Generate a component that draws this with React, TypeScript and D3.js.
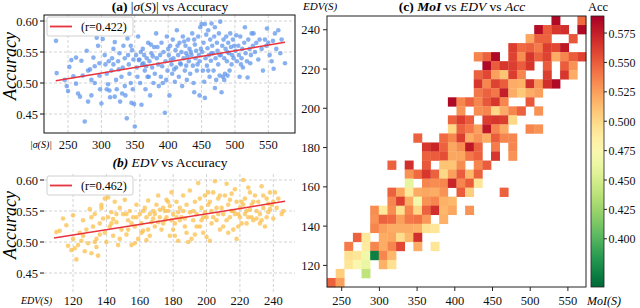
import React from "react";
import * as d3 from "d3";

const FONT = "'Liberation Serif', 'Times New Roman', serif";

// (a) |σ(S)| vs accuracy
const sigmaPoints: [number, number][] = [
  [232, 0.568], [233, 0.516], [248, 0.495], [250, 0.487], [252, 0.526], [255, 0.537], [258, 0.511], [245, 0.505],
  [262, 0.499], [265, 0.483], [268, 0.478], [262, 0.541], [270, 0.536], [275, 0.438], [278, 0.552], [280, 0.47],
  [283, 0.522], [285, 0.48], [288, 0.541], [290, 0.5], [293, 0.573], [295, 0.56], [297, 0.532], [298, 0.49],
  [300, 0.467], [285, 0.505], [272, 0.512], [290, 0.527], [297, 0.512], [280, 0.52],
  [302, 0.571], [305, 0.545], [306, 0.53], [308, 0.515], [310, 0.498], [312, 0.488], [313, 0.477], [315, 0.52],
  [316, 0.54], [318, 0.555], [320, 0.566], [322, 0.505], [323, 0.49], [325, 0.535], [327, 0.548], [328, 0.47],
  [330, 0.51], [332, 0.525], [333, 0.56], [335, 0.495], [336, 0.48], [338, 0.443], [340, 0.545], [341, 0.53],
  [342, 0.515], [344, 0.5], [345, 0.468], [346, 0.553], [347, 0.49], [348, 0.538], [349, 0.466], [350, 0.43],
  [335, 0.54], [326, 0.522], [318, 0.53], [311, 0.535], [339, 0.572], [344, 0.56], [320, 0.478], [331, 0.483], [308, 0.49],
  [352, 0.545], [353, 0.525], [354, 0.51], [355, 0.575], [356, 0.537], [358, 0.5], [360, 0.465], [361, 0.53],
  [362, 0.555], [364, 0.545], [365, 0.52], [366, 0.49], [368, 0.54], [369, 0.51], [370, 0.565], [372, 0.535],
  [373, 0.48], [375, 0.548], [376, 0.525], [378, 0.5], [379, 0.558], [380, 0.515], [382, 0.58], [383, 0.54],
  [385, 0.53], [386, 0.495], [388, 0.545], [389, 0.51], [390, 0.565], [391, 0.527], [393, 0.55], [395, 0.452],
  [396, 0.535], [397, 0.505], [398, 0.575], [399, 0.52], [357, 0.538], [363, 0.532], [371, 0.51], [377, 0.543],
  [384, 0.558], [392, 0.5], [367, 0.527], [359, 0.55], [374, 0.562],
  [401, 0.545], [402, 0.48], [403, 0.56], [405, 0.53], [406, 0.515], [407, 0.57], [408, 0.54], [410, 0.502],
  [411, 0.553], [412, 0.525], [413, 0.585], [415, 0.545], [416, 0.51], [417, 0.565], [418, 0.532], [420, 0.55],
  [421, 0.495], [422, 0.575], [423, 0.54], [425, 0.52], [426, 0.56], [427, 0.548], [428, 0.505], [430, 0.57],
  [431, 0.535], [432, 0.555], [433, 0.515], [435, 0.545], [436, 0.58], [437, 0.528], [438, 0.5], [440, 0.562],
  [441, 0.54], [442, 0.552], [443, 0.52], [445, 0.575], [446, 0.545], [447, 0.535], [448, 0.59], [449, 0.555],
  [404, 0.538], [409, 0.522], [414, 0.56], [419, 0.53], [424, 0.567], [429, 0.543], [434, 0.55], [439, 0.57],
  [444, 0.53], [400, 0.555], [427, 0.528], [439, 0.485], [447, 0.48],
  [450, 0.595], [451, 0.55], [452, 0.52], [453, 0.565], [454, 0.502], [455, 0.595], [456, 0.54], [457, 0.578],
  [458, 0.528], [459, 0.556], [460, 0.585], [461, 0.545], [462, 0.51], [463, 0.57], [464, 0.536], [465, 0.596],
  [466, 0.56], [467, 0.548], [468, 0.52], [469, 0.575], [470, 0.59], [471, 0.54], [472, 0.505], [473, 0.565],
  [474, 0.552], [475, 0.53], [476, 0.58], [477, 0.512], [478, 0.599], [479, 0.545], [480, 0.485], [481, 0.56],
  [482, 0.51], [483, 0.57], [484, 0.54], [485, 0.515], [486, 0.555], [487, 0.575], [488, 0.535], [489, 0.512],
  [490, 0.565], [491, 0.548], [492, 0.52], [493, 0.58], [494, 0.558], [495, 0.53], [496, 0.545], [497, 0.57],
  [498, 0.54], [499, 0.56], [455, 0.476], [470, 0.492], [460, 0.52], [477, 0.545], [484, 0.505], [465, 0.548], [489, 0.55],
  [501, 0.552], [502, 0.577], [503, 0.535], [505, 0.56], [506, 0.545], [507, 0.51], [508, 0.575], [510, 0.54],
  [511, 0.555], [512, 0.525], [514, 0.565], [515, 0.59], [516, 0.548], [518, 0.535], [519, 0.509], [520, 0.57],
  [522, 0.555], [524, 0.545], [525, 0.58], [527, 0.56], [528, 0.58], [530, 0.55], [532, 0.565], [535, 0.538],
  [537, 0.57], [540, 0.555], [542, 0.52], [545, 0.57], [548, 0.588], [550, 0.565], [552, 0.545], [555, 0.535],
  [558, 0.523], [560, 0.58], [562, 0.555], [565, 0.585], [568, 0.548], [570, 0.57], [575, 0.532], [509, 0.53],
  [523, 0.532], [547, 0.56], [557, 0.568],
];
const sigmaFit: [number, number][] = [[231.6, 0.5037], [574.9, 0.5656]];
const sigmaTicks = [250, 300, 350, 400, 450, 500, 550];

// (b) EDV vs accuracy
const edvPoints: [number, number][] = [
  [110, 0.516], [112, 0.518], [114, 0.538], [116, 0.527], [117, 0.494], [119, 0.487], [120, 0.543], [121, 0.49],
  [122, 0.472], [123, 0.495], [124, 0.515], [125, 0.502], [126, 0.535], [127, 0.485], [128, 0.52], [129, 0.498],
  [130, 0.553], [120, 0.505], [126, 0.51],
  [131, 0.482], [132, 0.525], [133, 0.545], [134, 0.492], [135, 0.478], [136, 0.512], [137, 0.555], [138, 0.538],
  [139, 0.57], [140, 0.5], [141, 0.572], [142, 0.525], [143, 0.548], [144, 0.51], [145, 0.565], [146, 0.532],
  [147, 0.495], [148, 0.555], [149, 0.52], [150, 0.545], [133, 0.5], [136, 0.53], [139, 0.515], [141, 0.54],
  [143, 0.53], [146, 0.545], [148, 0.505], [137, 0.56], [144, 0.537], [131, 0.54], [134, 0.505],
  [151, 0.568], [152, 0.512], [153, 0.535], [154, 0.55], [155, 0.495], [156, 0.54], [157, 0.525], [158, 0.56],
  [159, 0.505], [160, 0.545], [161, 0.53], [162, 0.518], [163, 0.555], [164, 0.54], [165, 0.567], [166, 0.51],
  [167, 0.532], [168, 0.55], [169, 0.525], [170, 0.56], [152, 0.545], [155, 0.53], [158, 0.54], [162, 0.55],
  [165, 0.52], [168, 0.538], [157, 0.498], [161, 0.515], [164, 0.503], [169, 0.545], [153, 0.52], [166, 0.545],
  [171, 0.575], [172, 0.54], [173, 0.52], [174, 0.555], [175, 0.535], [176, 0.568], [177, 0.55], [178, 0.51],
  [179, 0.58], [180, 0.545], [181, 0.53], [182, 0.565], [183, 0.502], [184, 0.555], [185, 0.54], [186, 0.575],
  [187, 0.525], [188, 0.56], [189, 0.5], [190, 0.548], [172, 0.552], [174, 0.53], [176, 0.54], [178, 0.558],
  [180, 0.52], [182, 0.54], [184, 0.535], [186, 0.55], [188, 0.515], [190, 0.583], [175, 0.55], [179, 0.535],
  [183, 0.548], [187, 0.538], [177, 0.565], [181, 0.51], [171, 0.532],
  [191, 0.505], [192, 0.535], [193, 0.565], [194, 0.545], [195, 0.595], [196, 0.525], [197, 0.555], [198, 0.515],
  [199, 0.575], [200, 0.54], [201, 0.56], [202, 0.502], [203, 0.55], [204, 0.58], [205, 0.598], [206, 0.535],
  [207, 0.57], [208, 0.52], [209, 0.555], [210, 0.545], [192, 0.55], [194, 0.525], [196, 0.57], [198, 0.54],
  [200, 0.508], [202, 0.565], [204, 0.54], [206, 0.555], [208, 0.575], [210, 0.525], [197, 0.535], [203, 0.53],
  [199, 0.548], [207, 0.545], [201, 0.58], [193, 0.512],
  [211, 0.575], [212, 0.594], [213, 0.56], [214, 0.54], [215, 0.55], [216, 0.52], [217, 0.585], [218, 0.565],
  [219, 0.545], [220, 0.555], [221, 0.53], [222, 0.6], [223, 0.57], [224, 0.55], [225, 0.54], [226, 0.58],
  [227, 0.56], [228, 0.535], [229, 0.575], [230, 0.55], [212, 0.535], [214, 0.568], [216, 0.55], [218, 0.505],
  [220, 0.54], [222, 0.56], [224, 0.53], [226, 0.552], [228, 0.565], [230, 0.538], [215, 0.578], [219, 0.525],
  [223, 0.545], [227, 0.54], [221, 0.565], [225, 0.588], [213, 0.515], [217, 0.545],
  [231, 0.565], [232, 0.545], [233, 0.59], [234, 0.555], [235, 0.525], [236, 0.57], [237, 0.548], [238, 0.58],
  [239, 0.56], [240, 0.538], [241, 0.58], [242, 0.555], [243, 0.57], [245, 0.545], [246, 0.55], [232, 0.53],
  [234, 0.575], [236, 0.54], [238, 0.553], [240, 0.565], [233, 0.535], [237, 0.562],
];
const edvFit: [number, number][] = [[108.6, 0.5065], [247, 0.5656]];
const edvTicks = [120, 140, 160, 180, 200, 220, 240];

const accTicks = [0.45, 0.5, 0.55, 0.6];

// (c) MoI x EDV binned accuracy, 30 x 30 bins; rows listed from highest EDV bin down, [column, acc]
const heatRows: [number, number][][] = [
  [[26, 0.585], [29, 0.545]],
  [[24, 0.583], [25, 0.55], [26, 0.565], [27, 0.568], [29, 0.585]],
  [[23, 0.522], [24, 0.548], [25, 0.548], [28, 0.552]],
  [[21, 0.562], [22, 0.545], [23, 0.548], [24, 0.538], [25, 0.562], [26, 0.558], [27, 0.578]],
  [[17, 0.535], [18, 0.548], [19, 0.585], [21, 0.56], [22, 0.532], [23, 0.565], [24, 0.548], [25, 0.56], [26, 0.52], [27, 0.535], [28, 0.55], [29, 0.56]],
  [[18, 0.585], [19, 0.55], [20, 0.565], [21, 0.562], [22, 0.55], [23, 0.565], [25, 0.55], [27, 0.55], [28, 0.53]],
  [[17, 0.548], [18, 0.558], [19, 0.525], [20, 0.51], [21, 0.562], [22, 0.535], [25, 0.562], [27, 0.565], [28, 0.52]],
  [[17, 0.565], [18, 0.535], [19, 0.56], [20, 0.55], [21, 0.52], [22, 0.518], [23, 0.568], [24, 0.53], [25, 0.568], [26, 0.585]],
  [[17, 0.54], [18, 0.548], [19, 0.54], [20, 0.575], [21, 0.52], [22, 0.508], [23, 0.52], [24, 0.525]],
  [[14, 0.585], [15, 0.535], [16, 0.548], [17, 0.535], [18, 0.552], [19, 0.565], [20, 0.535], [23, 0.552]],
  [[15, 0.53], [17, 0.532], [18, 0.535], [19, 0.5], [20, 0.52], [21, 0.535], [22, 0.548], [24, 0.53]],
  [[14, 0.548], [15, 0.562], [16, 0.55], [18, 0.562], [19, 0.565], [20, 0.562], [21, 0.5]],
  [[14, 0.5], [15, 0.548], [16, 0.54], [17, 0.525], [18, 0.578], [19, 0.535], [20, 0.52], [23, 0.535], [24, 0.53]],
  [[10, 0.548], [13, 0.545], [14, 0.535], [15, 0.562], [16, 0.52], [17, 0.53], [18, 0.52], [19, 0.55], [20, 0.535], [21, 0.535]],
  [[11, 0.565], [12, 0.572], [13, 0.548], [14, 0.522], [15, 0.532], [16, 0.578], [17, 0.548], [19, 0.538], [21, 0.535]],
  [[11, 0.548], [12, 0.55], [13, 0.555], [14, 0.522], [15, 0.522], [16, 0.54], [17, 0.548], [19, 0.565], [21, 0.53]],
  [[7, 0.548], [9, 0.568], [11, 0.552], [13, 0.51], [14, 0.51], [15, 0.532], [17, 0.535], [18, 0.55]],
  [[9, 0.53], [10, 0.545], [11, 0.565], [12, 0.548], [13, 0.5], [14, 0.525], [15, 0.55], [16, 0.515], [17, 0.548]],
  [[9, 0.46], [11, 0.535], [12, 0.532], [13, 0.535], [14, 0.572], [15, 0.535], [16, 0.55], [17, 0.492]],
  [[7, 0.548], [8, 0.522], [9, 0.49], [10, 0.52], [11, 0.522], [12, 0.52], [13, 0.53], [15, 0.55], [16, 0.505], [20, 0.548]],
  [[7, 0.535], [8, 0.562], [9, 0.52], [10, 0.47], [11, 0.53], [12, 0.535], [13, 0.518], [14, 0.515]],
  [[5, 0.532], [6, 0.49], [7, 0.532], [8, 0.495], [9, 0.535], [10, 0.5], [11, 0.548], [12, 0.568], [13, 0.515], [14, 0.522], [16, 0.53]],
  [[5, 0.53], [6, 0.548], [7, 0.545], [8, 0.525], [9, 0.54], [10, 0.542], [11, 0.528], [13, 0.518]],
  [[5, 0.535], [6, 0.525], [7, 0.52], [8, 0.52], [9, 0.52], [10, 0.518], [11, 0.495], [12, 0.492]],
  [[3, 0.548], [4, 0.49], [6, 0.52], [7, 0.522], [8, 0.497], [9, 0.515], [10, 0.568]],
  [[2, 0.538], [4, 0.488], [5, 0.535], [6, 0.52], [7, 0.535], [8, 0.558], [10, 0.52], [12, 0.492]],
  [[2, 0.495], [3, 0.492], [4, 0.468], [5, 0.37], [6, 0.535], [7, 0.515]],
  [[2, 0.492], [3, 0.475], [4, 0.462], [6, 0.518], [7, 0.495]],
  [[1, 0.505], [4, 0.44]],
  [[0, 0.548], [1, 0.525]],
];
const moiRange = [230.5, 574];
const edvRange = [109, 247];
const moiTicks = [250, 300, 350, 400, 450, 500, 550];
const edvHeatTicks = [120, 140, 160, 180, 200, 220, 240];
const cbarTicks = [0.4, 0.425, 0.45, 0.475, 0.5, 0.525, 0.55, 0.575];
const accRange = [0.359, 0.5895];

const grid = {stroke: "#c8c8c8", strokeWidth: 0.8, strokeDasharray: "3,2"};
const tickTxt = {fontFamily: FONT, fontSize: 12.5, fill: "#111"};

const Scatter = ({points, fit, xTicks, xDomain, top, bottom, color, r, xLabel, title, frame, tickGap}: any) => {
  const x = d3.scaleLinear().domain(xDomain).range([44, 295]);
  const y = d3.scaleLinear().domain([0.4194, 0.6097]).range([bottom, top]);
  const line = d3.line<[number, number]>().x((d) => x(d[0])).y((d) => y(d[1]));
  return (
    <g>
      {xTicks.map((t: number) => (
        <line key={"gx" + t} x1={x(t)} x2={x(t)} y1={top} y2={bottom} {...grid} />
      ))}
      {accTicks.map((t) => (
        <line key={"gy" + t} x1={44} x2={295} y1={y(t)} y2={y(t)} {...grid} />
      ))}
      {points.map((p: [number, number], i: number) => (
        <circle key={i} cx={x(p[0])} cy={y(p[1])} r={2.3} fill={color} fillOpacity={0.72} />
      ))}
      <path d={line(fit) || ""} stroke="#e8323c" strokeWidth={1.5} fill="none" />
      {frame && <rect x={44} y={top} width={251} height={bottom - top} fill="none" stroke="#111" strokeWidth={1} />}
      {accTicks.map((t) => (
        <g key={"ty" + t}>
          <line x1={40} x2={44} y1={y(t)} y2={y(t)} stroke="#111" />
          <text x={38} y={y(t) + 4.5} textAnchor="end" {...tickTxt}>{t.toFixed(2)}</text>
        </g>
      ))}
      {xTicks.map((t: number) => (
        <text key={"tx" + t} x={x(t)} y={bottom + tickGap} textAnchor="middle" {...tickTxt}>{t}</text>
      ))}
      <text x={52} y={bottom + tickGap - 1} textAnchor="end" fontFamily={FONT} fontSize={10} fontStyle="italic">{xLabel}</text>
      <text transform={`translate(16,${(top + bottom) / 2 - 8}) rotate(-90)`} textAnchor="middle" fontFamily={FONT} fontSize={18} fontStyle="italic">Accuracy</text>
      <rect x={47} y={top + 2} width={86} height={19} rx={2} fill="white" fillOpacity={0.85} stroke="#d0d0d0" />
      <line x1={50} x2={72} y1={top + 11.5} y2={top + 11.5} stroke="#e8323c" strokeWidth={1.8} />
      <text x={81} y={top + 16} fontFamily={FONT} fontSize={12}>{r}</text>
      {title}
    </g>
  );
};

export default function App() {
  const hx = d3.scaleLinear().domain(moiRange).range([327, 586]);
  const hy = d3.scaleLinear().domain(edvRange).range([287, 16]);
  const bw = (moiRange[1] - moiRange[0]) / 30;
  const bh = (edvRange[1] - edvRange[0]) / 30;
  const color = d3.scaleSequential((t: number) => d3.interpolateRdYlGn(1 - t)).domain(accRange);
  const cy = d3.scaleLinear().domain(accRange).range([287, 16]);
  const stops = d3.range(0, 1.0001, 0.05);

  return (
    <svg width={640} height={308} style={{position: "absolute", left: 0, top: 0, background: "white"}}>
      <defs>
        <linearGradient id="cbar" x1="0" y1="1" x2="0" y2="0">
          {stops.map((s) => (
            <stop key={s} offset={s} stopColor={d3.interpolateRdYlGn(1 - s)} />
          ))}
        </linearGradient>
      </defs>
      <Scatter
        points={sigmaPoints} fit={sigmaFit} xTicks={sigmaTicks} xDomain={[214, 590]} top={15} bottom={133}
        color="#5b93ec" r="(r=0.422)" xLabel="|σ(S)|" frame={true} tickGap={16}
        title={<text x={170} y={11} textAnchor="middle" fontFamily={FONT} fontSize={13.5}>
          <tspan fontWeight="bold">(a)</tspan>  |<tspan fontStyle="italic">σ</tspan>(<tspan fontStyle="italic">S</tspan>)| vs Accuracy</text>}
      />
      <Scatter
        points={edvPoints} fit={edvFit} xTicks={edvTicks} xDomain={[102.6, 253]} top={174} bottom={292}
        color="#fbbd45" r="(r=0.462)" xLabel="EDV(S)" frame={false} tickGap={12.5}
        title={<text x={170} y={167} textAnchor="middle" fontFamily={FONT} fontSize={13.5}>
          <tspan fontWeight="bold" fontStyle="italic">(b)</tspan>  <tspan fontStyle="italic">EDV</tspan> vs Accuracy</text>}
      />

      {/* (c) heatmap */}
      {heatRows.map((row, ri) =>
        row.map(([c, v]) => {
          const x0 = hx(moiRange[0] + c * bw);
          const x1 = hx(moiRange[0] + (c + 1) * bw);
          const yTop = hy(edvRange[1] - ri * bh);
          const yBot = hy(edvRange[1] - (ri + 1) * bh);
          return <rect key={ri + "-" + c} x={x0} y={yTop} width={x1 - x0 + 0.3} height={yBot - yTop + 0.3} fill={color(v)} />;
        })
      )}
      <rect x={327} y={16} width={259} height={271} fill="none" stroke="#222" strokeWidth={1} />
      {edvHeatTicks.map((t) => (
        <g key={"hy" + t}>
          <line x1={323} x2={327} y1={hy(t)} y2={hy(t)} stroke="#222" />
          <text x={320} y={hy(t) + 4.5} textAnchor="end" {...tickTxt}>{t}</text>
        </g>
      ))}
      {moiTicks.map((t) => (
        <g key={"hx" + t}>
          <line x1={hx(t)} x2={hx(t)} y1={287} y2={291} stroke="#222" />
          <text x={hx(t)} y={304.5} textAnchor="middle" {...tickTxt}>{t}</text>
        </g>
      ))}
      <text x={303} y={10} fontFamily={FONT} fontSize={11} fontStyle="italic">EDV(S)</text>
      <text x={604} y={304.5} textAnchor="middle" fontFamily={FONT} fontSize={12} fontStyle="italic">MoI(S)</text>
      <text x={462} y={11} textAnchor="middle" fontFamily={FONT} fontSize={13.5}>
        <tspan fontWeight="bold">(c)</tspan> <tspan fontStyle="italic" fontWeight="bold">MoI</tspan> vs <tspan fontStyle="italic">EDV</tspan> vs <tspan fontStyle="italic">Acc</tspan>
      </text>

      {/* colorbar */}
      <rect x={591} y={16} width={13} height={271} fill="url(#cbar)" stroke="#222" strokeWidth={0.8} />
      {cbarTicks.map((t) => (
        <g key={"cb" + t}>
          <line x1={604} x2={607} y1={cy(t)} y2={cy(t)} stroke="#222" />
          <text x={608.5} y={cy(t) + 4.5} fontFamily={FONT} fontSize={12} fill="#111">{t.toFixed(3)}</text>
        </g>
      ))}
      <text x={598} y={11} textAnchor="middle" fontFamily={FONT} fontSize={12.5}>Acc</text>
    </svg>
  );
}
